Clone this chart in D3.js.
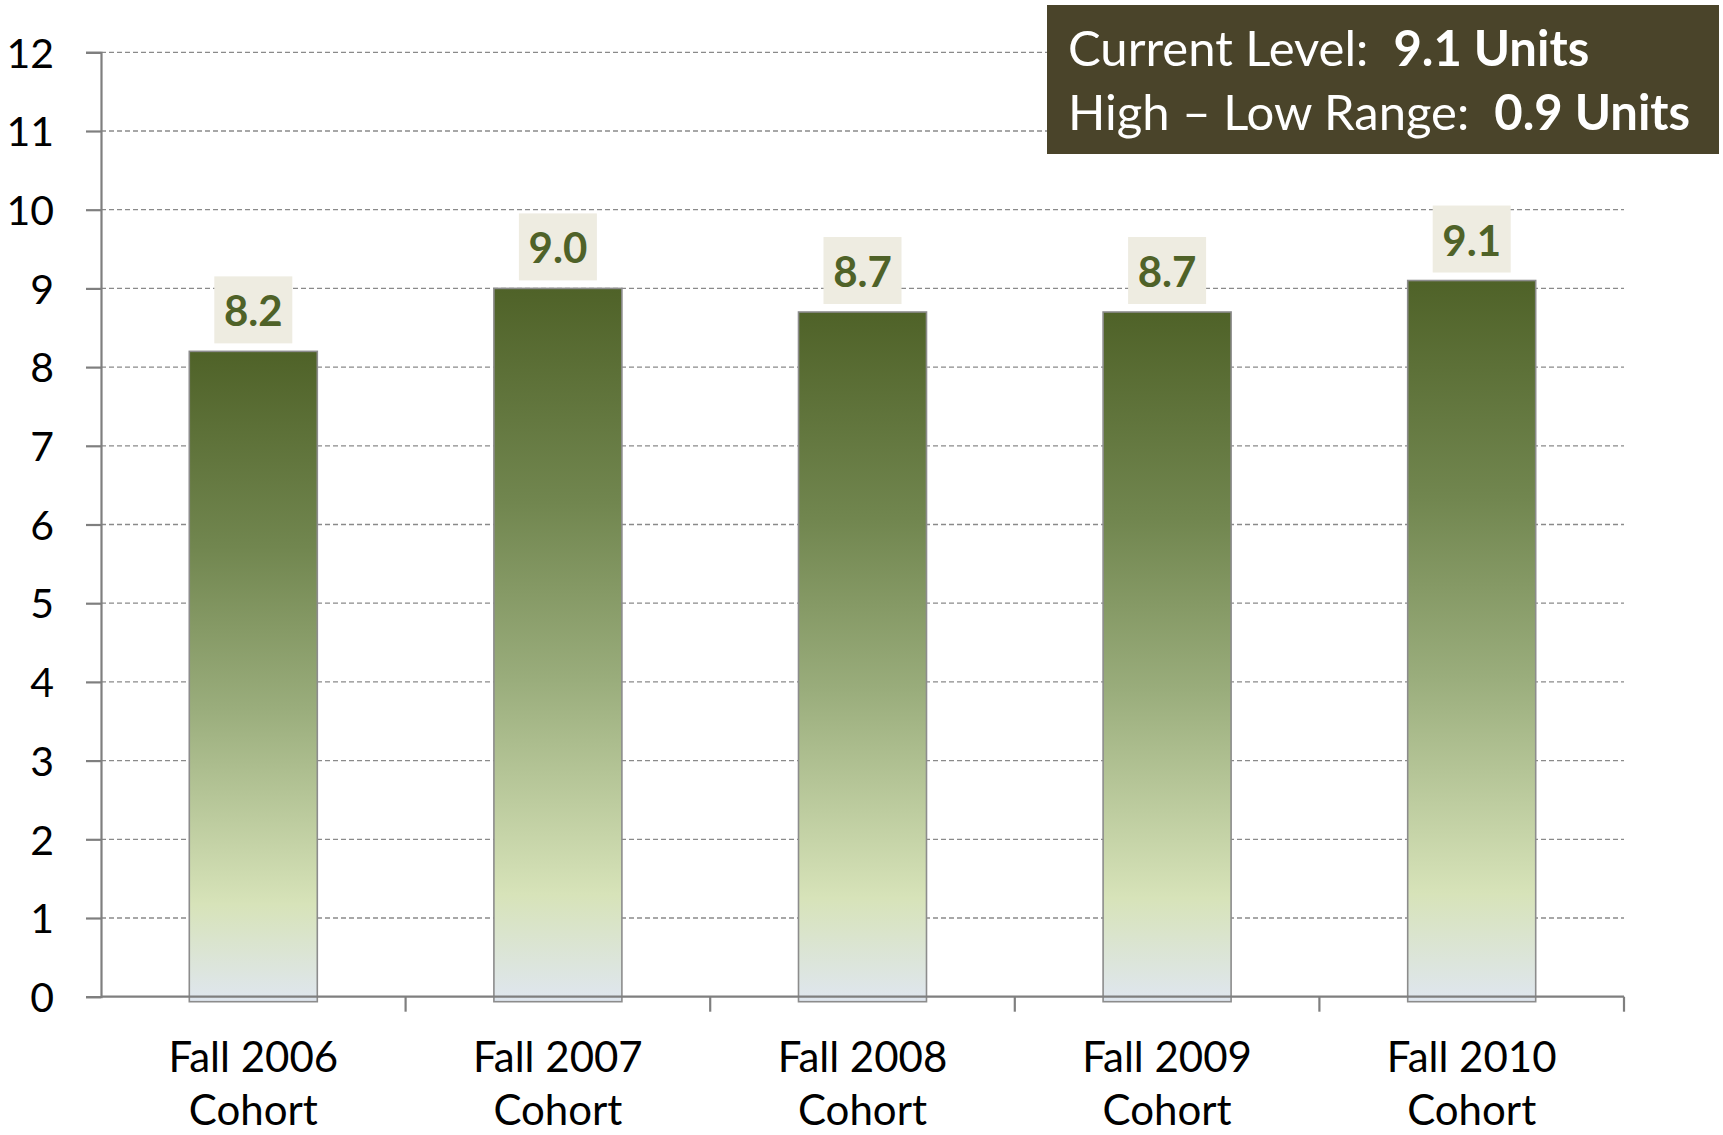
<!DOCTYPE html>
<html>
<head>
<meta charset="utf-8">
<script src="https://cdn.jsdelivr.net/npm/d3@7"></script>
<style>
  html, body { margin: 0; padding: 0; background: #ffffff; }
  svg { display: block; }
</style>
</head>
<body>
<script>
// Average units per cohort
const cohorts = ["Fall 2006", "Fall 2007", "Fall 2008", "Fall 2009", "Fall 2010"];
const cohortLine2 = "Cohort";
const units = [8.2, 9.0, 8.7, 8.7, 9.1];
const yTicks = [0, 1, 2, 3, 4, 5, 6, 7, 8, 9, 10, 11, 12];
const summaryLines = [
  { label: "Current Level:  ", value: "9.1 Units" },
  { label: "High \u2013 Low Range:  ", value: "0.9 Units" }
];

const W = 1723, H = 1135;
const FONT = "Lato, 'Open Sans', sans-serif";

const svg = d3.select("body").append("svg")
  .attr("width", W).attr("height", H);

const x = d3.scaleBand().domain(cohorts).range([101, 1624]).paddingInner(0).paddingOuter(0);
const y = d3.scaleLinear().domain([0, 12]).range([996.7, 52.3]);

// Bar fill gradient, dark olive at top fading to pale blue-grey
const defs = svg.append("defs");
const grad = defs.append("linearGradient")
  .attr("id", "barFill").attr("x1", 0).attr("y1", 0).attr("x2", 0).attr("y2", 1);
[[0, "#4f6228"], [0.3, "#71864f"], [0.55, "#9aad7c"], [0.85, "#d7e3b9"], [1, "#dfe6ef"]]
  .forEach(([o, c]) => grad.append("stop").attr("offset", o).attr("stop-color", c));

// Horizontal dashed gridlines
svg.append("g")
  .selectAll("line")
  .data(yTicks.filter(t => t > 0))
  .join("line")
  .attr("x1", 101).attr("x2", 1624)
  .attr("y1", d => y(d)).attr("y2", d => y(d))
  .attr("stroke", "#8a8a8a").attr("stroke-width", 1.3)
  .attr("stroke-dasharray", "5,3");

// Y axis
const yAxis = svg.append("g")
  .attr("transform", "translate(101,0)")
  .call(d3.axisLeft(y).tickValues(yTicks).tickSize(15).tickPadding(32).tickFormat(d3.format("d")));
yAxis.select(".domain").attr("stroke", "#7f7f7f").attr("stroke-width", 2.2);
yAxis.selectAll(".tick line").attr("stroke", "#7f7f7f").attr("stroke-width", 2.2);
yAxis.selectAll(".tick text")
  .attr("font-family", FONT).attr("font-size", 41).attr("fill", "#000")
  .attr("dy", "0.36em");

// Bars
const bw = 128;
svg.append("g")
  .selectAll("rect")
  .data(units)
  .join("rect")
  .attr("x", (d, i) => x(cohorts[i]) + x.bandwidth() / 2 - bw / 2)
  .attr("y", d => y(d))
  .attr("width", bw)
  .attr("height", d => y(0) - y(d) + 5)
  .attr("fill", "url(#barFill)")
  .attr("stroke", "#8c8c8c").attr("stroke-width", 1.6);

// X axis line with category separators
const xAxisG = svg.append("g").attr("transform", `translate(0,${y(0)})`);
xAxisG.append("line")
  .attr("x1", 101).attr("x2", 1624).attr("y1", 0).attr("y2", 0)
  .attr("stroke", "#7f7f7f").attr("stroke-width", 2.2);
const seps = cohorts.map(c => x(c)).concat([x.range()[1]]);
xAxisG.selectAll("line.sep")
  .data(seps.slice(1))
  .join("line").attr("class", "sep")
  .attr("x1", d => d).attr("x2", d => d)
  .attr("y1", 0).attr("y2", 15)
  .attr("stroke", "#7f7f7f").attr("stroke-width", 2.2);

// Category labels (two lines)
const catLabels = svg.append("g").selectAll("text")
  .data(cohorts)
  .join("text")
  .attr("x", d => x(d) + x.bandwidth() / 2)
  .attr("y", 1072)
  .attr("text-anchor", "middle")
  .attr("font-family", FONT).attr("font-size", 42).attr("fill", "#000");
catLabels.append("tspan").text(d => d);
catLabels.append("tspan")
  .attr("x", d => x(d) + x.bandwidth() / 2)
  .attr("dy", 53)
  .text(cohortLine2);

// Value labels in light boxes above each bar
const vl = svg.append("g").selectAll("g")
  .data(units)
  .join("g")
  .attr("transform", (d, i) => `translate(${x(cohorts[i]) + x.bandwidth() / 2},${y(d) - 8})`);
vl.append("rect")
  .attr("x", -39).attr("y", -67).attr("width", 78).attr("height", 67)
  .attr("fill", "#eeece1");
vl.append("text")
  .attr("x", 0).attr("y", -17)
  .attr("text-anchor", "middle")
  .attr("font-family", FONT).attr("font-weight", 700).attr("font-size", 42)
  .attr("fill", "#4f6228")
  .text(d => d.toFixed(1));

// Summary box
const box = svg.append("g").attr("transform", "translate(1047,5)");
box.append("rect").attr("width", 672).attr("height", 149).attr("fill", "#4a442a");
box.selectAll("text")
  .data(summaryLines)
  .join("text")
  .attr("x", 21)
  .attr("y", (d, i) => 61 + i * 64)
  .attr("font-family", FONT).attr("font-size", 49).attr("fill", "#ffffff")
  .each(function(d) {
    const t = d3.select(this);
    t.append("tspan").attr("xml:space", "preserve").style("white-space", "pre").text(d.label);
    t.append("tspan").attr("font-weight", 700).text(d.value);
  });
</script>
</body>
</html>
